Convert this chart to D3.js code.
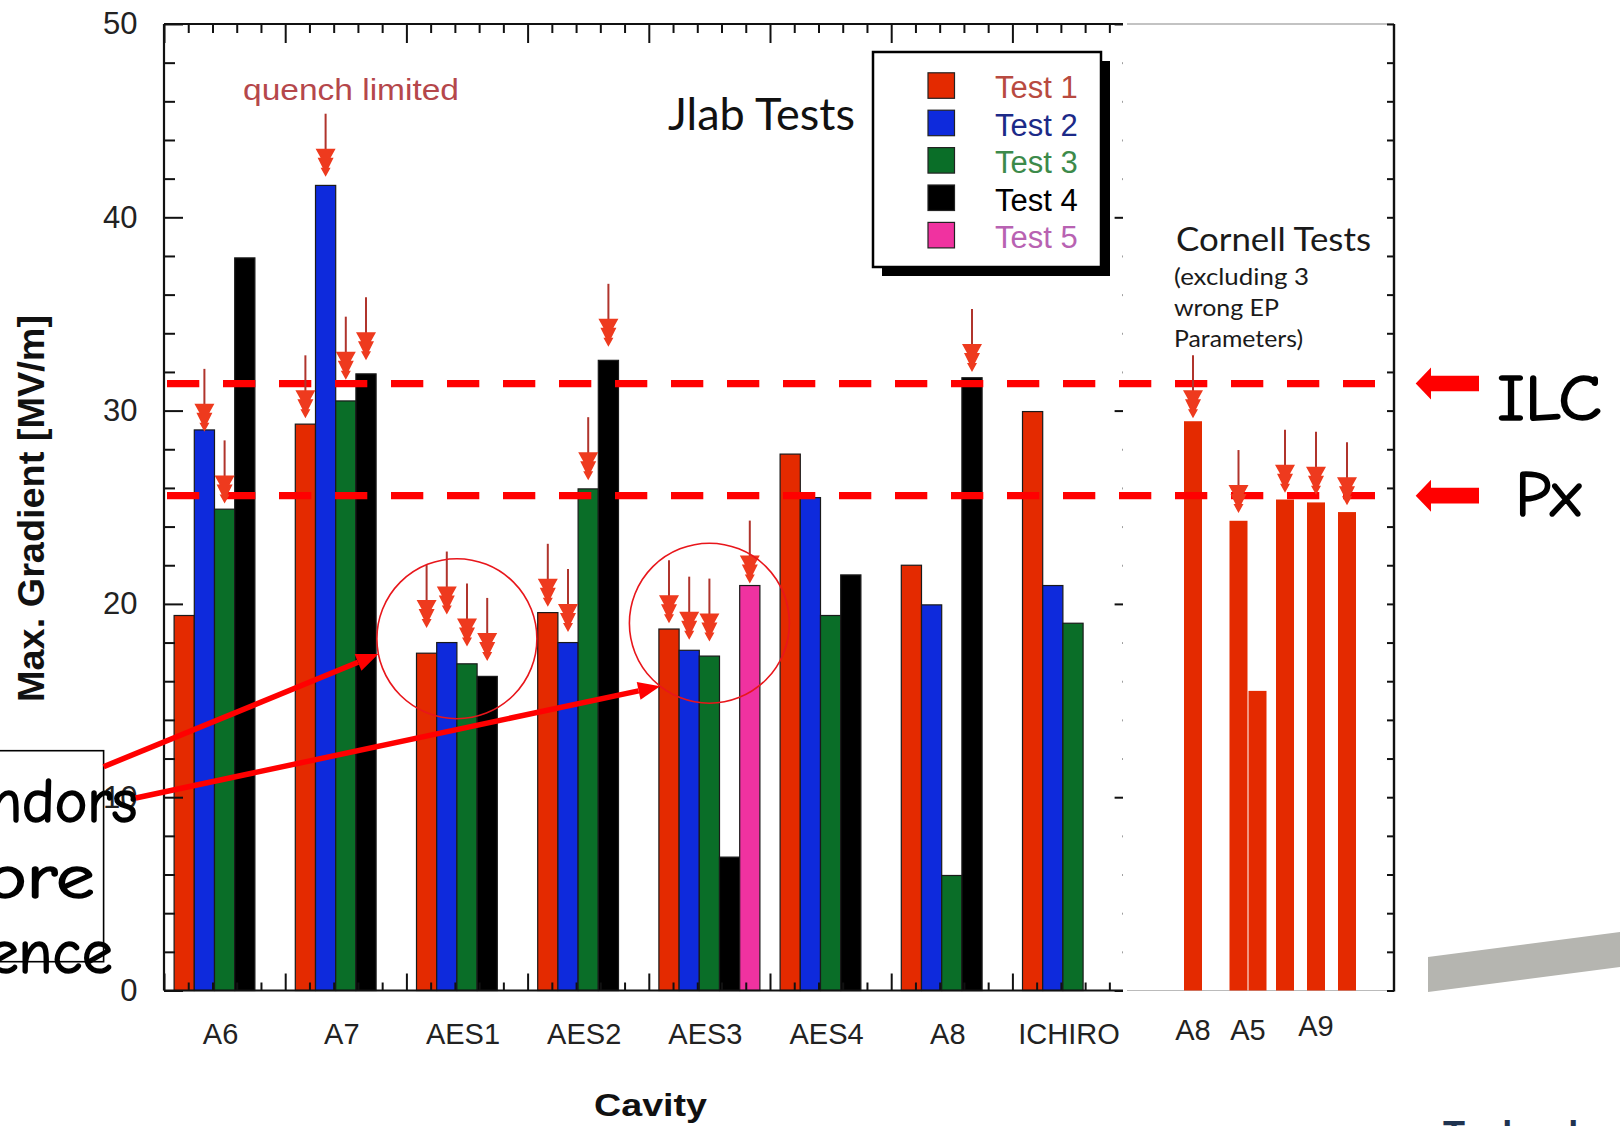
<!DOCTYPE html>
<html>
<head>
<meta charset="utf-8">
<script src="https://cdn.jsdelivr.net/npm/d3@7"></script>
<style>
  html, body { margin: 0; padding: 0; background: #fff; }
  svg { display: block; }
</style>
</head>
<body>
<svg id="chart" width="1620" height="1126"></svg>
<script>
// ---- JLab vertical tests: cavities and tests ----
const cavities = ["A6", "A7", "AES1", "AES2", "AES3", "AES4", "A8", "ICHIRO"];
const tests = ["Test 1", "Test 2", "Test 3", "Test 4", "Test 5"];

// Max. gradient [MV/m] per test, one entry per cavity (null = no such test)
const test1 = [19.4, 29.3, 17.45, 19.55, 18.7, 27.75, 22.0, 29.95];
const test2 = [29.0, 41.65, 18.0, 18.0, 17.6, 25.5, 19.95, 20.95];
const test3 = [24.9, 30.5, 16.9, 25.95, 17.3, 19.4, 5.95, 19.0];
const test4 = [37.9, 31.9, 16.25, 32.6, 6.9, 21.5, 31.7, null];
const test5 = [null, null, null, null, 20.95, null, null, null];

const testColors = ["#e42a00", "#0e2adc", "#0a6e28", "#000000", "#f032a0"];
const legendTextColors = ["#b84a40", "#1c2a88", "#3c8a4a", "#000000", "#b862b2"];

// ---- Cornell tests (excluding 3 with wrong EP parameters) ----
const cornellCavity = ["A8", "A5", "A5", "A9", "A9", "A9"];
const cornellValues = [29.45, 24.3, 15.5, 25.4, 25.25, 24.75];
const cornellLabels = ["A8", "A5", "A9"];

// Quench-limited markers: [cavity, test index, gradient at arrow tip]
const quenchJlab = [
  ["A6", 1, 28.9], ["A6", 2, 25.2],
  ["A7", 0, 29.6], ["A7", 1, 42.1], ["A7", 2, 31.6], ["A7", 3, 32.6],
  ["AES1", 0, 18.75], ["AES1", 1, 19.45], ["AES1", 2, 17.8], ["AES1", 3, 17.05],
  ["AES2", 0, 19.85], ["AES2", 1, 18.55], ["AES2", 2, 26.4], ["AES2", 3, 33.3],
  ["AES3", 0, 19.0], ["AES3", 1, 18.15], ["AES3", 2, 18.05], ["AES3", 4, 21.05],
  ["A8", 3, 32.0]
];
// Cornell quench markers: [bar index, gradient at arrow tip]
const quenchCornell = [[0, 29.6], [1, 24.7], [3, 25.75], [4, 25.65], [5, 25.1]];

// Gradient goals
const goalNames = ["ILC", "Px"];
const goalValues = [31.4, 25.6];

// Highlighted groups: [cavity, gradient at circle centre]
const circled = [["AES1", 18.2], ["AES3", 19.0]];

const yLabelTicks = [0, 10, 20, 30, 40, 50];

// ---- layout ----
const SANS = '"Liberation Sans", Arial, Helvetica, sans-serif';
const HUMAN = 'Lato, "Open Sans", "Liberation Sans", sans-serif';
const HAND = '"Comic Sans MS", "Comic Neue", "DejaVu Sans", sans-serif';

const svg = d3.select("#chart");
const plotLeft = 164, plotTop = 24, plotBottom = 990.5, groupPitch = 121.2;
const plotRight = plotLeft + groupPitch * cavities.length;

const x = d3.scaleBand().domain(cavities).range([plotLeft, plotRight]);
const bw = x.bandwidth();
const xTest = d3.scaleBand().domain(d3.range(tests.length)).range([bw / 12, bw * 11 / 12]);
const xFrac = d3.scaleLinear().domain([0, cavities.length]).range([plotLeft, plotRight]);
const y = d3.scaleLinear().domain([0, 50]).range([plotBottom, plotTop]);

svg.append("rect").attr("width", 1620).attr("height", 1126).attr("fill", "#fff");

// ---- JLab bars ----
const series = [test1, test2, test3, test4, test5];
const barData = [];
series.forEach((vals, t) => vals.forEach((v, i) => {
  if (v != null) barData.push({ cavity: cavities[i], test: t, value: v });
}));

svg.append("g").selectAll("rect").data(barData).join("rect")
  .attr("x", d => x(d.cavity) + xTest(d.test))
  .attr("y", d => y(d.value))
  .attr("width", xTest.bandwidth())
  .attr("height", d => plotBottom - y(d.value))
  .attr("fill", d => testColors[d.test])
  .attr("stroke", "#1a1a1a")
  .attr("stroke-width", 1.2);

// ---- JLab axes (ticks point inward) ----
const yMinor = d3.range(0, 51, 2).filter(v => v % 10 !== 0);
const yMajor = d3.range(0, 51, 10);
const xMinor = d3.range(0, cavities.length * 5 + 1).filter(k => k % 5 !== 0).map(k => k / 5);
const xMajor = d3.range(0, cavities.length + 1);

function ticks(axis, values, size, at) {
  svg.append("g").attr("transform", at)
    .call(axis.tickValues(values).tickSize(size).tickSizeOuter(0).tickFormat(""))
    .call(g => g.select(".domain").remove())
    .call(g => g.selectAll("line").attr("stroke", "#111").attr("stroke-width", 2));
}
ticks(d3.axisRight(y), yMinor, 11, `translate(${plotLeft},0)`);
ticks(d3.axisRight(y), yMajor, 19, `translate(${plotLeft},0)`);
ticks(d3.axisLeft(y), yMinor, 11, `translate(${plotRight},0)`);
ticks(d3.axisLeft(y), yMajor, 19, `translate(${plotRight},0)`);
ticks(d3.axisBottom(xFrac), xMinor, 9, `translate(0,${plotTop})`);
ticks(d3.axisBottom(xFrac), xMajor, 19, `translate(0,${plotTop})`);
ticks(d3.axisTop(xFrac), xMinor, 8, `translate(0,${plotBottom})`);
ticks(d3.axisTop(xFrac), xMajor, 17, `translate(0,${plotBottom})`);

// frame lines
const frame = svg.append("g").attr("stroke", "#111").attr("stroke-width", 2.2);
frame.append("line").attr("x1", plotLeft).attr("x2", plotLeft).attr("y1", plotTop).attr("y2", plotBottom);
frame.append("line").attr("x1", plotLeft).attr("x2", plotRight).attr("y1", plotTop).attr("y2", plotTop);
frame.append("line").attr("x1", plotLeft).attr("x2", plotRight).attr("y1", plotBottom).attr("y2", plotBottom);

// tick labels
svg.append("g").attr("transform", `translate(${plotLeft},0)`)
  .call(d3.axisLeft(y).tickValues(yLabelTicks).tickSize(0).tickPadding(26.5))
  .call(g => g.select(".domain").remove())
  .attr("font-size", 31).attr("font-family", SANS)
  .selectAll("text").attr("fill", "#222");

svg.append("g").attr("transform", `translate(0,${plotBottom})`)
  .call(d3.axisBottom(x).tickSize(0).tickPadding(32.5))
  .call(g => g.select(".domain").remove())
  .attr("font-size", 29).attr("font-family", SANS)
  .selectAll("text").attr("fill", "#222").attr("dx", -4);

// axis titles
svg.append("text")
  .attr("transform", `translate(44,508.5) rotate(-90)`)
  .attr("text-anchor", "middle")
  .attr("font-family", SANS).attr("font-weight", "bold").attr("font-size", 37)
  .attr("textLength", 387).attr("lengthAdjust", "spacingAndGlyphs")
  .attr("fill", "#111")
  .text("Max. Gradient [MV/m]");

svg.append("text")
  .attr("x", 594).attr("y", 1116)
  .attr("font-family", SANS).attr("font-weight", "bold").attr("font-size", 32)
  .attr("textLength", 113).attr("lengthAdjust", "spacingAndGlyphs")
  .attr("fill", "#111")
  .text("Cavity");

// ---- Cornell panel (pasted over the right end of the JLab frame) ----
const cPanelLeft = 1123, cAxisX = 1394;
svg.append("rect").attr("x", cPanelLeft).attr("y", 8).attr("width", 283).attr("height", 992).attr("fill", "#fff");
svg.append("line").attr("x1", cPanelLeft + 4).attr("x2", cAxisX).attr("y1", plotTop).attr("y2", plotTop)
  .attr("stroke", "#888").attr("stroke-width", 1.2);
svg.append("line").attr("x1", cPanelLeft + 4).attr("x2", cAxisX).attr("y1", plotBottom).attr("y2", plotBottom)
  .attr("stroke", "#bbb").attr("stroke-width", 1);
svg.append("g").attr("transform", `translate(${cAxisX},0)`)
  .call(d3.axisLeft(y).tickValues(d3.range(0, 51, 2)).tickSize(7).tickSizeOuter(0).tickFormat(""))
  .call(g => g.select(".domain").remove())
  .call(g => g.selectAll("line").attr("stroke", "#111").attr("stroke-width", 2));
svg.append("line").attr("x1", cAxisX).attr("x2", cAxisX).attr("y1", plotTop).attr("y2", plotBottom + 1)
  .attr("stroke", "#111").attr("stroke-width", 2.4);

// cavity centres along the Cornell panel
const xC = d3.scaleOrdinal().domain(cornellLabels).range([1193, 1248, 1316]);
// spacing between the bars of one cavity
const cornellSpacing = { A8: 0, A5: 19, A9: 31 };
const cornellBarW = 18;
function cornellCenter(k) {
  const cav = cornellCavity[k];
  const members = d3.range(cornellCavity.length).filter(i => cornellCavity[i] === cav);
  const j = members.indexOf(k), n = members.length;
  return xC(cav) + (j - (n - 1) / 2) * cornellSpacing[cav];
}
svg.append("g").selectAll("rect").data(cornellValues).join("rect")
  .attr("x", (d, k) => cornellCenter(k) - cornellBarW / 2)
  .attr("y", d => y(d))
  .attr("width", cornellBarW)
  .attr("height", d => plotBottom - y(d))
  .attr("fill", "#e42a00");

svg.append("g").selectAll("text").data(cornellLabels).join("text")
  .attr("x", d => xC(d)).attr("y", d => d === "A9" ? 1036 : 1040)
  .attr("text-anchor", "middle")
  .attr("font-family", SANS).attr("font-size", 29).attr("fill", "#222")
  .text(d => d);

const cornellNote = svg.append("g").attr("font-family", HUMAN).attr("fill", "#1a1a1a");
cornellNote.append("text").attr("x", 1176).attr("y", 251).attr("font-size", 33)
  .attr("textLength", 195).attr("lengthAdjust", "spacingAndGlyphs").text("Cornell Tests");
[["(excluding 3", 285, 135], ["wrong EP", 315.5, 105], ["Parameters)", 346.5, 129]].forEach(([t, yy, len]) => {
  cornellNote.append("text").attr("x", 1174).attr("y", yy).attr("font-size", 23)
    .attr("textLength", len).attr("lengthAdjust", "spacingAndGlyphs").text(t);
});

// ---- goal lines ----
const goals = svg.append("g");
goalValues.forEach((v, i) => {
  const gy = y(v);
  goals.append("line")
    .attr("x1", plotLeft + 3).attr("x2", 1375).attr("y1", gy).attr("y2", gy)
    .attr("stroke", "#ff0000").attr("stroke-width", 7.3)
    .attr("stroke-dasharray", "32.3 23.7");
  goals.append("path")
    .attr("d", `M1415.7,${gy} L1431,${gy - 16} L1431,${gy - 7.8} L1479,${gy - 7.8} L1479,${gy + 7.8} L1431,${gy + 7.8} L1431,${gy + 16} Z`)
    .attr("fill", "#ff0000");
  goals.append("text")
    .attr("x", i === 0 ? 1497 : 1515.6).attr("y", gy + (i === 0 ? 36.5 : 20))
    .attr("font-family", HAND).attr("font-size", 64).attr("fill", "#000")
    .attr("stroke", "#000").attr("stroke-width", 1.6)
    .attr("textLength", i === 0 ? 105 : 65.4).attr("lengthAdjust", "spacingAndGlyphs")
    .text(goalNames[i]);
});

// ---- quench arrows ----
const arrowLen = 63;
function quenchArrow(g, cx, tip) {
  g.append("line").attr("x1", cx).attr("x2", cx).attr("y1", tip - arrowLen).attr("y2", tip - 20)
    .attr("stroke", "#b0342c").attr("stroke-width", 2);
  g.append("path")
    .attr("transform", `translate(${cx},${tip})`)
    .attr("d", "M-10,-28 L10,-28 L5,-19 L8,-19 L3,-9 L5,-9 L0,0 L-5,-9 L-3,-9 L-8,-19 L-5,-19 Z")
    .attr("fill", "#ee3a1e");
}
const arrows = svg.append("g");
quenchJlab.forEach(([cav, t, v]) => {
  quenchArrow(arrows, x(cav) + xTest(t) + xTest.bandwidth() / 2, y(v));
});
quenchCornell.forEach(([k, v]) => quenchArrow(arrows, cornellCenter(k), y(v)));

svg.append("text")
  .attr("x", 243).attr("y", 100)
  .attr("font-family", SANS).attr("font-size", 29).attr("fill", "#b5474b")
  .attr("textLength", 216).attr("lengthAdjust", "spacingAndGlyphs")
  .text("quench limited");

svg.append("text")
  .attr("x", 668).attr("y", 129.5)
  .attr("font-family", HUMAN).attr("font-size", 44).attr("fill", "#111")
  .attr("textLength", 187).attr("lengthAdjust", "spacingAndGlyphs")
  .text("Jlab Tests");

// ---- legend ----
const lg = svg.append("g");
const lgX = 873, lgY = 52, lgW = 228, lgH = 215;
lg.append("rect").attr("x", lgX + 9).attr("y", lgY + 9).attr("width", lgW).attr("height", lgH).attr("fill", "#000");
lg.append("rect").attr("x", lgX).attr("y", lgY).attr("width", lgW).attr("height", lgH)
  .attr("fill", "#fff").attr("stroke", "#000").attr("stroke-width", 2.5);
tests.forEach((t, i) => {
  const base = 98.3 + i * 37.4;
  lg.append("rect").attr("x", 928).attr("y", base - 25.5).attr("width", 26.5).attr("height", 25.5)
    .attr("fill", testColors[i]).attr("stroke", "#222").attr("stroke-width", 1.2);
  lg.append("text").attr("x", 995).attr("y", base)
    .attr("font-family", SANS).attr("font-size", 31).attr("fill", legendTextColors[i])
    .text(t);
});

// ---- circled groups and callout ----
const ann = svg.append("g");
const circleR = 80;
const centres = circled.map(([cav, v]) => {
  const n = series.filter(s => s[cavities.indexOf(cav)] != null).length;
  return [x(cav) + bw / 12 + n * xTest.bandwidth() / 2, y(v)];
});
centres.forEach(([cx, cy]) => {
  ann.append("circle").attr("cx", cx).attr("cy", cy).attr("r", circleR)
    .attr("fill", "none").attr("stroke", "#e8161b").attr("stroke-width", 1.6);
});

ann.append("rect").attr("x", -10).attr("y", 750.7).attr("width", 113.6).attr("height", 211)
  .attr("fill", "#fff").attr("stroke", "#000").attr("stroke-width", 1.6);

// callout text, running off the left edge of the slide
const calloutText = ann.append("g").attr("font-family", HAND).attr("font-size", 62)
  .attr("fill", "#000").attr("stroke", "#000").attr("stroke-width", 1.6);
[["ndors", 821.7, -12, 137.5], ["ore", 898.3, -14, 94.6], ["ence", 973.3, -12, 112.5]].forEach(([t, yy, x0, x1]) => {
  calloutText.append("text").attr("x", x0).attr("y", yy)
    .attr("textLength", x1 - x0).attr("lengthAdjust", "spacingAndGlyphs").text(t);
});

const calloutAngles = [169, 128];
const starts = [[103.6, 766.7], [135.7, 798]];
centres.forEach(([cx, cy], i) => {
  const a = calloutAngles[i] * Math.PI / 180;
  const tx = cx + circleR * Math.cos(a), ty = cy + circleR * Math.sin(a);
  const [sx, sy] = starts[i];
  const ang = Math.atan2(ty - sy, tx - sx);
  const hl = 22, hw = 9;
  const bx = tx - hl * Math.cos(ang), by = ty - hl * Math.sin(ang);
  ann.append("line").attr("x1", sx).attr("y1", sy).attr("x2", bx).attr("y2", by)
    .attr("stroke", "#ff0000").attr("stroke-width", 5.5);
  ann.append("path")
    .attr("d", `M${tx},${ty} L${bx + hw * Math.sin(ang)},${by - hw * Math.cos(ang)} L${bx - hw * Math.sin(ang)},${by + hw * Math.cos(ang)} Z`)
    .attr("fill", "#ff0000");
});

// ---- slide decoration at the lower right ----
svg.append("path").attr("d", "M1428,957 L1620,932 L1620,967 L1428,992 Z").attr("fill", "#b5b5b0");
svg.append("text").attr("x", 1443).attr("y", 1147)
  .attr("font-family", SANS).attr("font-weight", "bold").attr("font-size", 36).attr("fill", "#1f3350")
  .text("Technology");
</script>
</body>
</html>
